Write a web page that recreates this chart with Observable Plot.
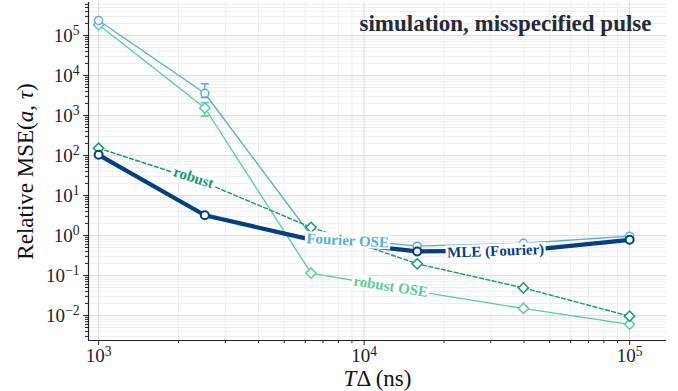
<!DOCTYPE html>
<html><head><meta charset="utf-8">
<script src="https://cdn.jsdelivr.net/npm/d3@7"></script>
<script src="https://cdn.jsdelivr.net/npm/@observablehq/plot@0.6"></script>
<style>body{margin:0;background:#fff;} svg{display:block}</style>
</head><body><div id="chart"></div>
<script>
// ---- data ----
const T = [1000, 2512, 6310, 15849, 39811, 100000];
const fourierOSE = [2.37e5, 3600, 1.0, 0.54, 0.64, 0.96];
const robustOSE = [1.85e5, 1540, 0.115, 0.040, 0.015, 0.006];
const robust = [152, 21, 1.6, 0.196, 0.049, 0.0096];
const mle = [104, 3.2, 0.79, 0.40, 0.42, 0.78];
const fourierLo = [null, 2800, null, null, null, null];
const fourierHi = [null, 6200, null, null, null, null];
const robustOSELo = [null, 960, null, null, null, null];
const robustOSEHi = [null, 2100, null, null, null, null];

const xTicks = [1e3, 1e4, 1e5];
const xTickLabels = ["10^3", "10^4", "10^5"];
const yTicks = [1e-2, 1e-1, 1e0, 1e1, 1e2, 1e3, 1e4, 1e5];
const yTickLabels = ["10^-2", "10^-1", "10^0", "10^1", "10^2", "10^3", "10^4", "10^5"];

const lineLabels = ["Fourier OSE", "robust OSE", "robust", "MLE (Fourier)"];
const lineLabelX = [8670, 12600, 2280, 31300];
const lineLabelY = [0.75, 0.053, 28, 0.41];
const lineLabelRotate = [3, 9, 18, -2];

const title = "simulation, misspecified pulse";
const xLabel = "TΔ (ns)";
const yLabel = "Relative MSE(a, τ)";

// ---- styles ----
const C = {fourier: "#5aade0", robustOSE: "#5ccc9c", robust: "#15996f", mle: "#053f80"};
const labelColors = [C.fourier, C.robustOSE, C.robust, C.mle];
const xDomain = [916, 137700];
const yDomain = [0.00237, 668000];

const minor = (lo, hi) => {
  const out = [];
  for (let k = -4; k <= 6; k++) for (let m = 2; m <= 9; m++) {
    const v = m * Math.pow(10, k);
    if (v >= lo && v <= hi) out.push(v);
  }
  return out;
};
const xMinor = minor(xDomain[0], xDomain[1]);
const yMinor = minor(yDomain[0], yDomain[1]);

const rows = (vals) => T.map((t, i) => ({T: t, v: vals[i]}));
const errRows = (lo, hi) => T.map((t, i) => ({T: t, lo: lo[i], hi: hi[i]})).filter(d => d.lo != null);
const labelRows = lineLabels.map((s, i) => ({s, x: lineLabelX[i], y: lineLabelY[i], r: lineLabelRotate[i], c: labelColors[i]}));

const capSymbol = {draw(ctx, size) { const w = Math.sqrt(size / Math.PI); ctx.moveTo(-w, 0); ctx.lineTo(w, 0); }};

function errMarks(data, color) {
  return [
    Plot.ruleX(data, {x: "T", y1: "lo", y2: "hi", stroke: color, strokeWidth: 1.5}),
    Plot.dot(data, {x: "T", y: "lo", symbol: capSymbol, r: 4, stroke: color, strokeWidth: 1.5, fill: "none"}),
    Plot.dot(data, {x: "T", y: "hi", symbol: capSymbol, r: 4, stroke: color, strokeWidth: 1.5, fill: "none"})
  ];
}

const FONT = "'Liberation Serif', 'Times New Roman', serif";

const svg = Plot.plot({
  width: 678, height: 391,
  marginLeft: 88, marginRight: 12, marginTop: 2, marginBottom: 51,
  style: {fontFamily: FONT, fontSize: "19px", background: "white", color: "#222"},
  x: {type: "log", domain: xDomain, label: null},
  y: {type: "log", domain: yDomain, label: null},
  marks: [
    Plot.ruleX(xMinor, {stroke: "#eceef2", strokeWidth: 1}),
    Plot.ruleY(yMinor, {stroke: "#eceef2", strokeWidth: 1}),
    Plot.ruleX(xTicks, {stroke: "#d8dbe1", strokeWidth: 1}),
    Plot.ruleY(yTicks, {stroke: "#d8dbe1", strokeWidth: 1}),
    Plot.axisX({ticks: xMinor, tickSize: 3, tickFormat: () => "", label: null, stroke: "#222"}),
    Plot.axisY({ticks: yMinor, tickSize: 3, tickFormat: () => "", label: null, stroke: "#222"}),
    Plot.axisX({ticks: xTicks, tickSize: 5, tickPadding: 3, fontSize: 19, label: null, stroke: "#222", fill: "#222",
      tickFormat: d => xTickLabels[xTicks.indexOf(d)]}),
    Plot.axisY({ticks: yTicks, tickSize: 5, tickPadding: 4, fontSize: 19, label: null, stroke: "#222", fill: "#222",
      tickFormat: d => yTickLabels[yTicks.indexOf(d)]}),
    Plot.ruleX([xDomain[0]], {stroke: "#222", strokeWidth: 1.2}),
    Plot.ruleY([yDomain[0]], {stroke: "#222", strokeWidth: 1.2}),

    Plot.line(rows(robustOSE), {x: "T", y: "v", stroke: C.robustOSE, strokeWidth: 1.3}),
    ...errMarks(errRows(robustOSELo, robustOSEHi), C.robustOSE),
    Plot.dot(rows(robustOSE), {x: "T", y: "v", symbol: "diamond2", r: 4.6, stroke: C.robustOSE, strokeWidth: 1.5, fill: "white"}),

    Plot.line(rows(fourierOSE), {x: "T", y: "v", stroke: C.fourier, strokeWidth: 1.3}),
    ...errMarks(errRows(fourierLo, fourierHi), C.fourier),
    Plot.dot(rows(fourierOSE), {x: "T", y: "v", r: 4, stroke: C.fourier, strokeWidth: 1.5, fill: "white"}),

    Plot.line(rows(robust), {x: "T", y: "v", stroke: C.robust, strokeWidth: 1.4, strokeDasharray: "4,2.5"}),
    Plot.dot(rows(robust), {x: "T", y: "v", symbol: "diamond2", r: 4.6, stroke: C.robust, strokeWidth: 1.5, fill: "white"}),

    Plot.line(rows(mle), {x: "T", y: "v", stroke: C.mle, strokeWidth: 4.2}),
    Plot.dot(rows(mle), {x: "T", y: "v", r: 4, stroke: C.mle, strokeWidth: 2, fill: "white"}),

    Plot.text(labelRows, {x: "x", y: "y", text: "s", rotate: "r", fill: "c", fontSize: 15, fontWeight: "bold"}),

    Plot.text([title], {text: d => d, frameAnchor: "top-right", textAnchor: "end", lineAnchor: "top", dx: -15, dy: 12,
      fontSize: 23, fontWeight: "bold", fill: "#232b38"}),
    Plot.text([xLabel], {text: d => d, frameAnchor: "bottom", textAnchor: "middle", lineAnchor: "bottom", dy: 45, fontSize: 23, fill: "#111"}),
    Plot.text([yLabel], {text: d => d, frameAnchor: "left", textAnchor: "middle", rotate: -90, dx: -63, fontSize: 23, fill: "#111"})
  ]
});
document.getElementById("chart").append(svg);

const NS = "http://www.w3.org/2000/svg";
function ts(txt, attrs = {}) {
  const e = document.createElementNS(NS, "tspan");
  e.textContent = txt;
  for (const k in attrs) e.setAttribute(k, attrs[k]);
  return e;
}
svg.querySelectorAll("text").forEach(t => {
  const s = t.textContent;
  const m = s.match(/^10\^(.+)$/);
  if (m) {
    t.textContent = "";
    t.append(ts("10"), ts(m[1].replace("-", "\u2212"), {dy: "-0.45em", "font-size": "0.72em"}));
  } else if (s === yLabel) {
    t.textContent = "";
    t.append(ts("Relative MSE("), ts("a", {"font-style": "italic"}), ts(", "), ts("τ", {"font-style": "italic"}), ts(")"));
  } else if (s === xLabel) {
    t.textContent = "";
    t.append(ts("T", {"font-style": "italic"}), ts("Δ (ns)"));
  } else if (lineLabels.includes(s)) {
    const bb = t.getBBox();
    const r = document.createElementNS(NS, "rect");
    r.setAttribute("x", bb.x - 1.5); r.setAttribute("y", bb.y + 1);
    r.setAttribute("width", bb.width + 3); r.setAttribute("height", bb.height - 2);
    r.setAttribute("fill", "white"); r.setAttribute("stroke", "none");
    if (t.getAttribute("transform")) r.setAttribute("transform", t.getAttribute("transform"));
    t.parentNode.insertBefore(r, t);
  }
});
</script>
</body></html>
